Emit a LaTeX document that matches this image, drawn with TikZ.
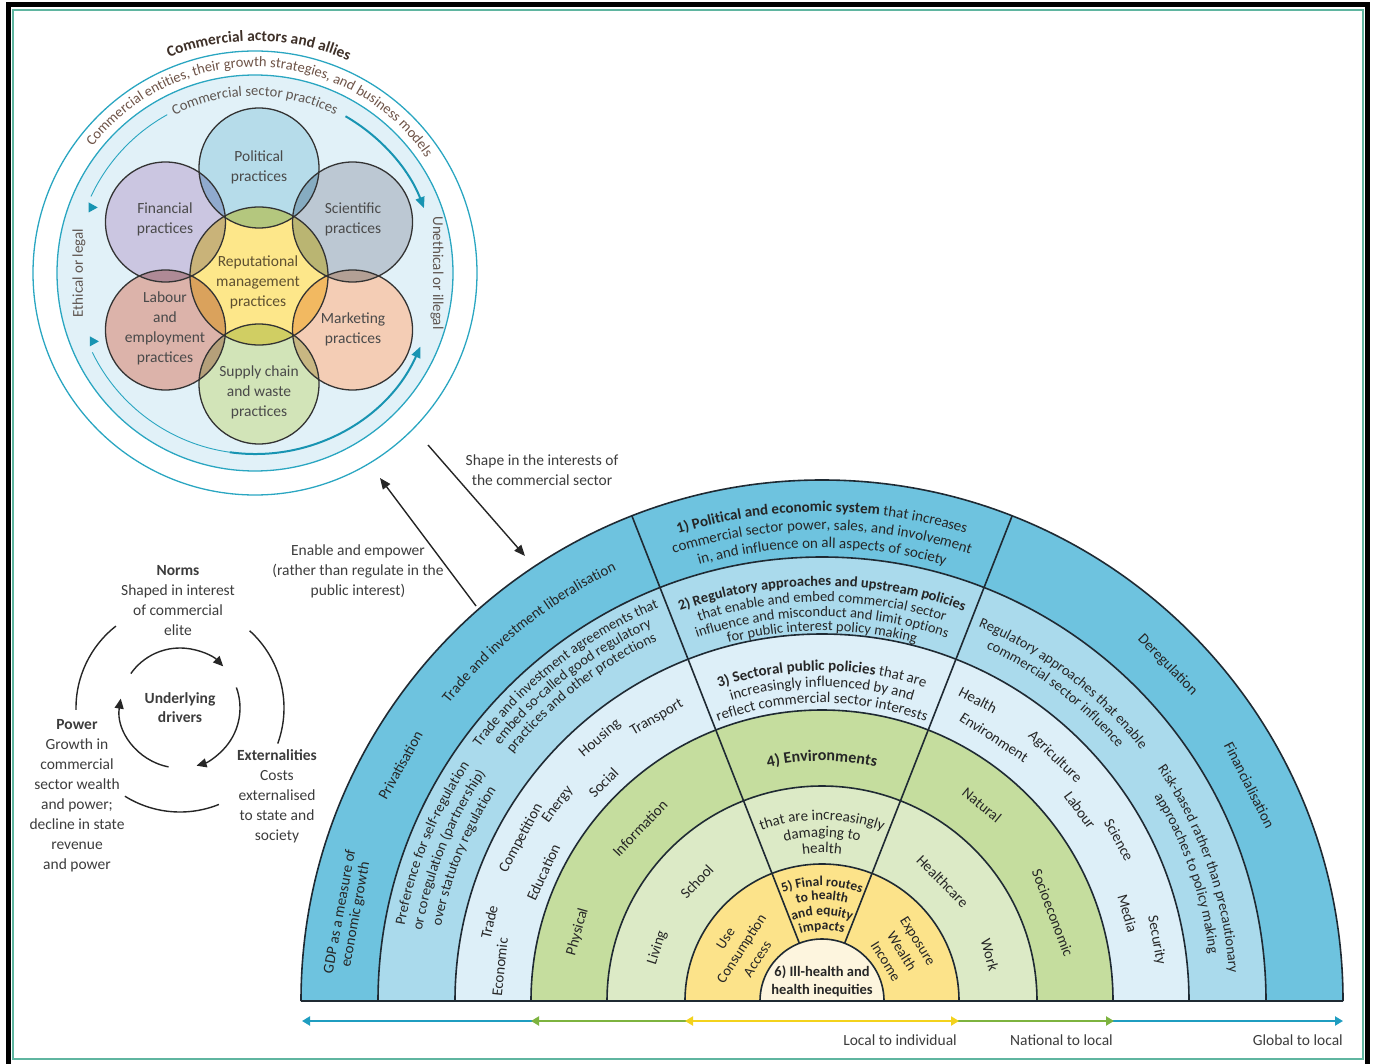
\documentclass[tikz,border=0pt]{standalone}
\usepackage{fontspec}
\setmainfont{Carlito}
\usetikzlibrary{decorations.text,arrows.meta,calc}
\definecolor{bA}{HTML}{6EC3DF}
\definecolor{bB}{HTML}{AADAEC}
\definecolor{bC}{HTML}{DDEFF8}
\definecolor{bD}{HTML}{C5DD9E}
\definecolor{bE}{HTML}{DCEAC6}
\definecolor{bF}{HTML}{FCE38A}
\definecolor{bG}{HTML}{FDF5DE}
\definecolor{olc}{HTML}{1F2A33}
\definecolor{txt}{HTML}{262626}
\definecolor{gtxt}{HTML}{3C3C3C}
\definecolor{tl}{HTML}{2AA6C1}
\definecolor{tlA}{HTML}{1894B2}
\definecolor{disk}{HTML}{E1F1F8}
\definecolor{frm}{HTML}{5FB5A0}
\definecolor{cPol}{HTML}{B6DCEA}
\definecolor{cFin}{HTML}{CBC6E1}
\definecolor{cSci}{HTML}{BCC8D3}
\definecolor{cRep}{HTML}{FDE78A}
\definecolor{cLab}{HTML}{DCB3AA}
\definecolor{cMkt}{HTML}{F4CDB5}
\definecolor{cSup}{HTML}{D2E4B8}
\definecolor{fltxt}{HTML}{4A4A4A}
\definecolor{reptxt}{HTML}{5E5030}
\definecolor{brA}{HTML}{3E3028}
\definecolor{brB}{HTML}{6E5347}
\definecolor{brC}{HTML}{5E5550}
\definecolor{axT}{HTML}{1F9DC0}
\definecolor{axG}{HTML}{7DB33F}
\definecolor{axY}{HTML}{F3D21C}
\newcommand\fR{\fontsize{15}{16}\selectfont}
\newcommand\fB{\fontsize{15}{16}\selectfont\bfseries}
\newcommand\fRs{\fontsize{14.5}{15}\selectfont}
\newcommand\fBs{\fontsize{14.5}{15}\selectfont\bfseries}
\newcommand\fBt{\fontsize{13.5}{14}\selectfont\bfseries}
\newcommand\ctext[5][txt]{\path[decorate,decoration={text along path,text align=center,text color=#1,text={#5}}] ($(#2)+({#3+75}:#4)$) arc[start angle={#3+75},end angle={#3-75},radius=#4];}
\newcommand\rtext[4]{\node[lbl,rotate={#2-90}] (#1) at ($(C)+(#2:#3)$) {#4};}
\begin{document}
\begin{tikzpicture}[x=1pt,y=1pt,
  lbl/.style={font=\fontsize{15}{16}\selectfont,text=txt,align=center,inner sep=0pt},
  lb/.style={font=\fontsize{15.5}{20}\selectfont,text=gtxt,align=center,inner sep=0pt},
  fl/.style={font=\fontsize{15.5}{20}\selectfont,text=fltxt,align=center,inner sep=0pt},
  olpath/.style={draw=olc,line width=1.6pt},
  ring/.style={draw=black!80,line width=1.3pt},
  cyc/.style={draw=black!85,line width=1.4pt},
  tipA/.style={-{Triangle[length=10pt,width=9pt]}},
  arr/.style={draw=black!85,line width=1.4pt,-{Triangle[length=11pt,width=9pt]}},
  axarrow/.style={line width=2pt,{Triangle[length=8pt,width=9pt]}-{Triangle[length=8pt,width=9pt]}}
]
\useasboundingbox (0,0) rectangle (1376,-1064);
% ---------- frame ----------
\draw[frm,line width=2pt] (13,-10) rectangle (1363,-1059);
\draw[black,line width=5pt] (8.5,-1064) -- (8.5,-4.5) -- (1367,-4.5) -- (1367,-1064);

% ---------- commercial actors circle ----------
\coordinate (F) at (255,-273);
\coordinate (G) at (259,-276);
\draw[tl,line width=1.3pt] (F) circle[radius=222];
\filldraw[fill=disk,draw=tl,line width=1.3pt] (F) circle[radius=198];
\fill[white] (G) circle[radius=69];
\foreach \a in {90,30,-30,-90,-150,150} \fill[white] ($(G)+(\a:108)$) circle[radius=60];
\begin{scope}[blend group=multiply]
  \fill[cPol] ($(G)+(90:108)$) circle[radius=60];
  \fill[cSci] ($(G)+(30:108)$) circle[radius=60];
  \fill[cMkt] ($(G)+(-30:108)$) circle[radius=60];
  \fill[cSup] ($(G)+(-90:108)$) circle[radius=60];
  \fill[cLab] ($(G)+(-150:108)$) circle[radius=60];
  \fill[cFin] ($(G)+(150:108)$) circle[radius=60];
  \fill[cRep] (G) circle[radius=69];
\end{scope}
\foreach \a in {90,30,-30,-90,-150,150} \draw[ring] ($(G)+(\a:108)$) circle[radius=60];
\draw[ring] (G) circle[radius=69];

\node[fl] (tPol) at (259,-167) {Political\\practices};
\node[fl] (tFin) at (165,-219) {Financial\\practices};
\node[fl] (tSci) at (353,-219) {Scientific\\practices};
\node[fl,text=reptxt] (tRep) at (258,-282) {Reputational\\management\\practices};
\node[fl] (tLab) at (165,-328) {Labour\\and\\employment\\practices};
\node[fl] (tMkt) at (353,-329) {Marketing\\practices};
\node[fl] (tSup) at (259,-392) {Supply chain\\and waste\\practices};

\draw[tl,line width=0.9pt] ($(F)+(155:181)$) arc[start angle=155,end angle=119,radius=181];
\draw[tlA,line width=2pt,-{Triangle[length=11pt,width=9pt]}] ($(F)+(60:181)$) arc[start angle=60,end angle=21,radius=181];
\draw[tl,line width=0.9pt] ($(F)+(206:181)$) arc[start angle=206,end angle=262,radius=181];
\draw[tlA,line width=2pt,-{Triangle[length=11pt,width=9pt]}] ($(F)+(262:181)$) arc[start angle=262,end angle=336,radius=181];
\fill[tlA] ($(F)+(158:175)$) ++(5,0) -- ++(-9,5) -- ++(0,-10) -- cycle;
\fill[tlA] ($(F)+(203:175)$) ++(5,0) -- ++(-9,5) -- ++(0,-10) -- cycle;
\node[lb,text=brC,font=\fontsize{15}{16}\selectfont,rotate=90] (eth) at (79,-273) {Ethical or legal};
\node[lb,text=brC,font=\fontsize{15}{16}\selectfont,rotate=-90] (uneth) at (437,-273) {Unethical or illegal};
\ctext[brA]{F}{89}{232}{|\fontsize{15.5}{17}\selectfont\bfseries|Commercial actors and allies}
\ctext[brB]{F}{88}{206}{|\fontsize{14.5}{16}\selectfont|Commercial entities, their growth strategies, and business models}
\ctext[brC]{F}{90}{177}{|\fontsize{14.5}{16}\selectfont|Commercial sector practices}

% ---------- underlying drivers cycle ----------
\coordinate (D) at (180,-708);
\draw[cyc] ($(D)+(128:104)$) arc[start angle=128,end angle=181,radius=104];
\draw[cyc] ($(D)+(48:104)$) arc[start angle=48,end angle=-20,radius=104];
\draw[cyc] ($(D)+(238:104)$) arc[start angle=238,end angle=292,radius=104];
\draw[cyc,tipA] ($(D)+(145:60)$) arc[start angle=145,end angle=44,radius=60];
\draw[cyc,tipA] ($(D)+(20:60)$) arc[start angle=20,end angle=-74,radius=60];
\draw[cyc,tipA] ($(D)+(259:60)$) arc[start angle=259,end angle=171,radius=60];
\node[lb] (norms) at (178,-601) {\textbf{Norms}\\Shaped in interest\\of commercial\\elite};
\node[lb,font=\fontsize{15.5}{19}\selectfont\bfseries] (under) at (180,-708) {Underlying\\drivers};
\node[lb] (power) at (77,-796) {\textbf{Power}\\Growth in\\commercial\\sector wealth\\and power;\\decline in state\\revenue\\and power};
\node[lb] (ext) at (277,-796) {\textbf{Externalities}\\Costs\\externalised\\to state and\\society};

% ---------- connectors between the two parts ----------
\node[lb] (enable) at (358,-571) {Enable and empower\\(rather than regulate in the\\public interest)};
\node[lb] (shape) at (542,-470) {Shape in the interests of\\the commercial sector};
\coordinate (s1) at (428,-445);
\coordinate (s2) at (525,-556);
\coordinate (e1) at (476,-606);
\coordinate (e2) at (380,-478);
\draw[arr] (s1) -- (s2);
\draw[arr] (e1) -- (e2);

% ---------- semicircle ----------
\coordinate (C) at (822,-1001);
\foreach \r/\col in {521/bA,444/bB,367/bC,291/bD,215/bE,137/bF,62/bG}
  \fill[\col] ($(C)+(180:\r)$) arc[start angle=180,end angle=0,radius=\r] -- cycle;
\foreach \r in {521,444,367,291,215,137,62}
  \draw[olpath] ($(C)+(180:\r)$) arc[start angle=180,end angle=0,radius=\r];
\draw[olpath] ($(C)+(180:521)$) -- ($(C)+(0:521)$);
\draw[olpath] ($(C)+(111.4:62)$) -- ($(C)+(111.4:521)$);
\draw[olpath] ($(C)+(68.6:62)$) -- ($(C)+(68.6:521)$);

% band 1
\ctext{C}{90}{489}{|\fB|1) Political and economic system |\fR|that increases}
\ctext{C}{90}{471}{|\fR|commercial sector power, sales, and involvement}
\ctext{C}{90}{453}{|\fR|in, and influence on all aspects of society}
\ctext{C}{128.5}{477}{|\fR|Trade and investment liberalisation}
\rtext{gdp}{169.5}{482}{GDP as a measure of\\economic growth}
\rtext{priv}{150.8}{483}{Privatisation}
\rtext{dereg}{44.2}{482}{Deregulation}
\rtext{finl}{26.8}{479}{Financialisation}
% band 2
\ctext{C}{128}{426}{|\fRs|Trade and investment agreements that}
\ctext{C}{128}{411}{|\fRs|embed so-called good regulatory}
\ctext{C}{128}{396}{|\fRs|practices and other protections}
\ctext{C}{158}{424}{|\fRs|Preference for self-regulation}
\ctext{C}{158}{406}{|\fRs|or coregulation (partnership)}
\ctext{C}{158}{388}{|\fRs|over statutory regulation}
\ctext{C}{52.8}{406}{|\fRs|Regulatory approaches that enable}
\ctext{C}{52.8}{389}{|\fRs|commercial sector influence}
\ctext{C}{19.3}{408}{|\fRs|Risk-based rather than precautionary}
\ctext{C}{19.3}{390}{|\fRs|approaches to policy making}
\ctext{C}{90}{415}{|\fBs|2) Regulatory approaches and upstream policies}
\ctext{C}{90}{399}{|\fRs|that enable and embed commercial sector}
\ctext{C}{90}{384}{|\fRs|influence and misconduct and limit options}
\ctext{C}{90}{370}{|\fRs|for public interest policy making}
% band 3
\ctext{C}{90}{330}{|\fB|3) Sectoral public policies |\fR|that are}
\ctext{C}{90}{314}{|\fR|increasingly influenced by and}
\ctext{C}{90}{298}{|\fR|reflect commercial sector interests}
\rtext{trade}{166.7}{342}{Trade}
\rtext{econ}{174}{324}{Economic}
\rtext{comp}{151.6}{342}{Competition}
\rtext{educ}{155.2}{307}{Education}
\rtext{energy}{143.4}{329}{Energy}
\rtext{social}{135}{309}{Social}
\rtext{housing}{130.2}{344}{Housing}
\rtext{transport}{120.2}{328}{Transport}
\rtext{health}{62.6}{339}{Health}
\rtext{envir}{56.9}{315}{Environment}
\rtext{agri}{46.3}{337}{Agriculture}
\rtext{labour}{36.5}{321}{Labour}
\rtext{science}{28.5}{338}{Science}
\rtext{media}{16}{318}{Media}
\rtext{security}{10.3}{340}{Security}
% band 4
\ctext{C}{90}{240}{|\fontsize{16}{16}\selectfont\bfseries|4) Environments}
\rtext{phys}{164.2}{254}{Physical}
\rtext{info}{136.5}{251}{Information}
\rtext{nat}{50.8}{253}{Natural}
\rtext{socio}{20.9}{247}{Socioeconomic}
% band 5
\ctext{C}{90}{181}{|\fR|that are increasingly}
\ctext{C}{90}{164}{|\fR|damaging to}
\ctext{C}{90}{148}{|\fR|health}
\rtext{living}{162.2}{173}{Living}
\rtext{school}{136.4}{173}{School}
\rtext{hcare}{44.8}{170}{Healthcare}
\rtext{work}{15.3}{174}{Work}
% band 6
\ctext{C}{90}{115}{|\fBt|5) Final routes}
\ctext{C}{90}{101}{|\fBt|to health}
\ctext{C}{90}{86}{|\fBt|and equity}
\ctext{C}{90}{71}{|\fBt|impacts}
\node[lbl,font=\fontsize{14.5}{19}\selectfont,rotate=57] (uca) at ($(C)+(147:96)$) {Use\\Consumption\\Access};
\node[lbl,font=\fontsize{14.5}{19}\selectfont,rotate=-58] (ewi) at ($(C)+(32:94)$) {Exposure\\Wealth\\Income};
\node[lbl,font=\fontsize{14.5}{18}\selectfont\bfseries] (ill) at (822,-981) {6) Ill-health and\\health inequities};

% ---------- scale axis ----------
\coordinate (ax1) at (302,-1021);
\coordinate (ax2) at (1343,-1021);
\coordinate (g1) at (531,-1021);
\coordinate (g2) at (1114,-1021);
\coordinate (y1) at (685,-1021);
\coordinate (y2) at (959,-1021);
\draw[axT,axarrow] (ax1) -- (ax2);
\draw[axG,axarrow] (g1) -- (g2);
\draw[axY,axarrow] (y1) -- (y2);
\node[lb,anchor=east] (lti) at (957,-1040) {Local to individual};
\node[lb,anchor=east] (ntl) at (1113,-1040) {National to local};
\node[lb,anchor=east] (gtl) at (1343,-1040) {Global to local};
\end{tikzpicture}
\end{document}
